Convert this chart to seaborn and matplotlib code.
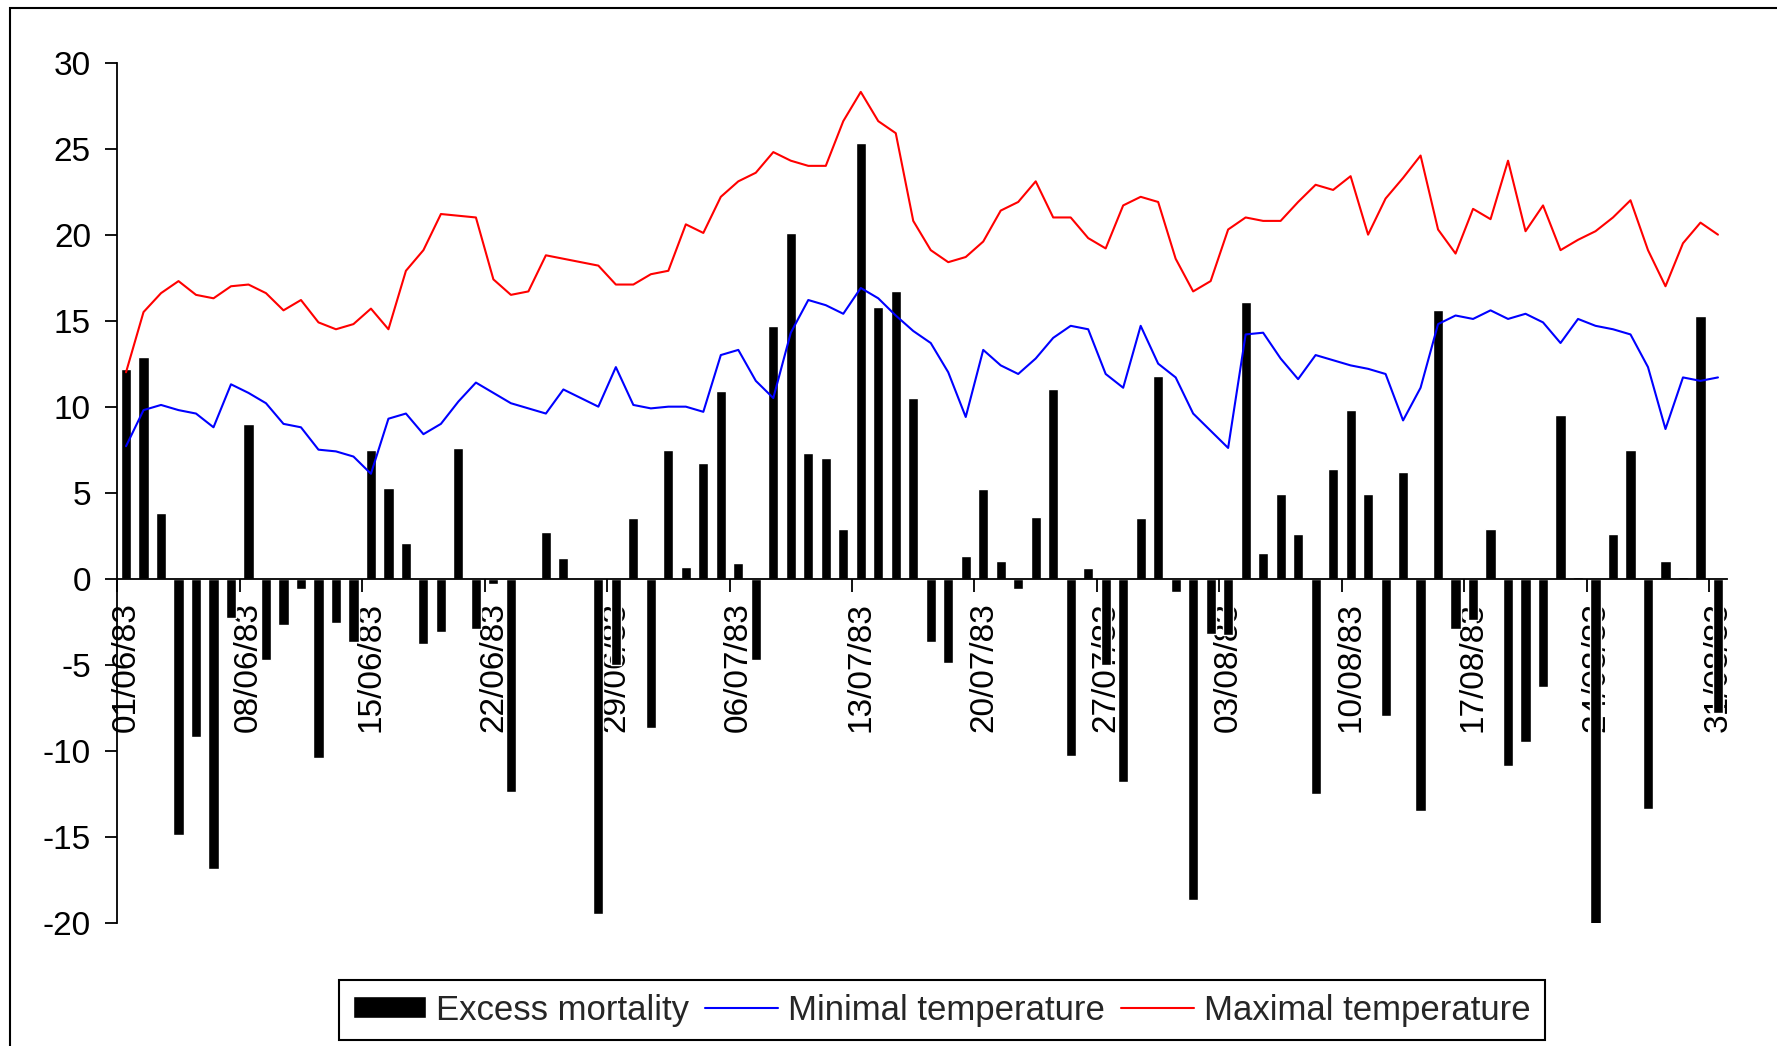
import matplotlib
matplotlib.use("Agg")
import matplotlib.pyplot as plt
from matplotlib.patches import Rectangle
from matplotlib.transforms import ScaledTranslation
import seaborn as sns
import numpy as np
import pandas as pd

# daily values, 01/06/83 .. 31/08/83
excess_mortality = [
    12.2, 12.9, 3.8, -14.9, -9.2, -16.9, -2.3, 9.0, -4.7, -2.7,
    -0.6, -10.4, -2.6, -3.7, 7.5, 5.3, 2.1, -3.8, -3.1, 7.6,
    -2.9, -0.3, -12.4, 0.0, 2.7, 1.2, 0.0, -19.5, -5.0, 3.5,
    -8.7, 7.5, 0.7, 6.7, 10.9, 0.9, -4.7, 14.7, 20.1, 7.3,
    7.0, 2.9, 25.3, 15.8, 16.7, 10.5, -3.7, -4.9, 1.3, 5.2,
    1.0, -0.6, 3.6, 11.0, -10.3, 0.6, -5.0, -11.8, 3.5, 11.8,
    -0.8, -18.7, -3.2, -3.3, 16.1, 1.5, 4.9, 2.6, -12.5, 6.4,
    9.8, 4.9, -8.0, 6.2, -13.5, 15.6, -2.9, -2.4, 2.9, -10.9,
    -9.5, -6.3, 9.5, 0.1, -20.3, 2.6, 7.5, -13.4, 1.0, 0.1,
    15.3, -7.8,
]
min_temp = [
    7.7, 9.8, 10.1, 9.8, 9.6, 8.8, 11.3, 10.8, 10.2, 9.0,
    8.8, 7.5, 7.4, 7.1, 6.1, 9.3, 9.6, 8.4, 9.0, 10.3,
    11.4, 10.8, 10.2, 9.9, 9.6, 11.0, 10.5, 10.0, 12.3, 10.1,
    9.9, 10.0, 10.0, 9.7, 13.0, 13.3, 11.5, 10.5, 14.3, 16.2,
    15.9, 15.4, 16.9, 16.3, 15.3, 14.4, 13.7, 12.0, 9.4, 13.3,
    12.4, 11.9, 12.8, 14.0, 14.7, 14.5, 11.9, 11.1, 14.7, 12.5,
    11.7, 9.6, 8.6, 7.6, 14.2, 14.3, 12.8, 11.6, 13.0, 12.7,
    12.4, 12.2, 11.9, 9.2, 11.1, 14.8, 15.3, 15.1, 15.6, 15.1,
    15.4, 14.9, 13.7, 15.1, 14.7, 14.5, 14.2, 12.3, 8.7, 11.7,
    11.5, 11.7,
]
max_temp = [
    12.0, 15.5, 16.6, 17.3, 16.5, 16.3, 17.0, 17.1, 16.6, 15.6,
    16.2, 14.9, 14.5, 14.8, 15.7, 14.5, 17.9, 19.1, 21.2, 21.1,
    21.0, 17.4, 16.5, 16.7, 18.8, 18.6, 18.4, 18.2, 17.1, 17.1,
    17.7, 17.9, 20.6, 20.1, 22.2, 23.1, 23.6, 24.8, 24.3, 24.0,
    24.0, 26.6, 28.3, 26.6, 25.9, 20.8, 19.1, 18.4, 18.7, 19.6,
    21.4, 21.9, 23.1, 21.0, 21.0, 19.8, 19.2, 21.7, 22.2, 21.9,
    18.6, 16.7, 17.3, 20.3, 21.0, 20.8, 20.8, 21.9, 22.9, 22.6,
    23.4, 20.0, 22.1, 23.3, 24.6, 20.3, 18.9, 21.5, 20.9, 24.3,
    20.2, 21.7, 19.1, 19.7, 20.2, 21.0, 22.0, 19.1, 17.0, 19.5,
    20.7, 20.0,
]
dates = pd.date_range("1983-06-01", "1983-08-31", freq="D")
tick_every = 7
series_labels = ["Excess mortality", "Minimal temperature", "Maximal temperature"]

df = pd.DataFrame({
    "day": np.arange(len(dates)),
    "excess": excess_mortality,
    "tmin": min_temp,
    "tmax": max_temp,
})

sns.set_style("ticks")
plt.rcParams["font.family"] = ["Liberation Sans", "DejaVu Sans"]
plt.rcParams["axes.unicode_minus"] = False

fig = plt.figure(figsize=(17.77, 10.46), dpi=100)
ax = fig.add_axes([0.066, 0.1179, 0.9057, 0.8222])

sns.barplot(data=df, x="day", y="excess", color="black", saturation=1,
            width=0.58, label=series_labels[0], ax=ax)
sns.lineplot(data=df, x="day", y="tmin", color="blue", linewidth=1.5,
             label=series_labels[1], ax=ax)
sns.lineplot(data=df, x="day", y="tmax", color="red", linewidth=1.5,
             label=series_labels[2], ax=ax)

ax.set_xlim(-0.5, len(dates) - 0.5)
ax.set_ylim(-20, 30)
ax.set_yticks(range(-20, 31, 5))
tick_idx = list(range(0, len(dates), tick_every))
ax.set_xticks([i - 0.5 for i in tick_idx])
ax.set_xticklabels([dates[i].strftime("%d/%m/%y") for i in tick_idx])
ax.set_xlabel("")
ax.set_ylabel("")

ax.spines["top"].set_visible(False)
ax.spines["right"].set_visible(False)
ax.spines["bottom"].set_position(("data", 0))
for s in ("left", "bottom"):
    ax.spines[s].set_linewidth(1.3)
    ax.spines[s].set_color("black")
ax.tick_params(axis="both", direction="out", length=9, width=1.3,
               colors="black", labelsize=24)
ax.tick_params(axis="y", pad=10)
ax.tick_params(axis="x", pad=8, labelrotation=90)
ax.grid(False)

# date labels sit a little to the right of their tick marks
shift = ScaledTranslation(9 / 100, 0, fig.dpi_scale_trans)
for lbl in ax.get_xticklabels():
    lbl.set_transform(lbl.get_transform() + shift)

handles, labels = ax.get_legend_handles_labels()
if ax.get_legend() is not None:
    ax.get_legend().remove()
order = [labels.index(name) for name in series_labels]
leg = fig.legend([handles[k] for k in order], [labels[k] for k in order],
                 loc="center", bbox_to_anchor=(0.530, 0.0344),
                 ncol=3, frameon=True, fancybox=False, edgecolor="black",
                 framealpha=1, fontsize=25, handlelength=2.1, handleheight=0.6,
                 handletextpad=0.3, columnspacing=0.45, borderpad=0.4,
                 borderaxespad=0)
leg.get_frame().set_linewidth(1.5)

# outer chart-area frame (runs off the right and bottom edges)
fig.patches.append(Rectangle((10 / 1777, -0.2), 1.5, 1.2 - 8 / 1046,
                             transform=fig.transFigure, fill=False,
                             edgecolor="black", linewidth=1.5))

fig.savefig("out.png", dpi=100)
